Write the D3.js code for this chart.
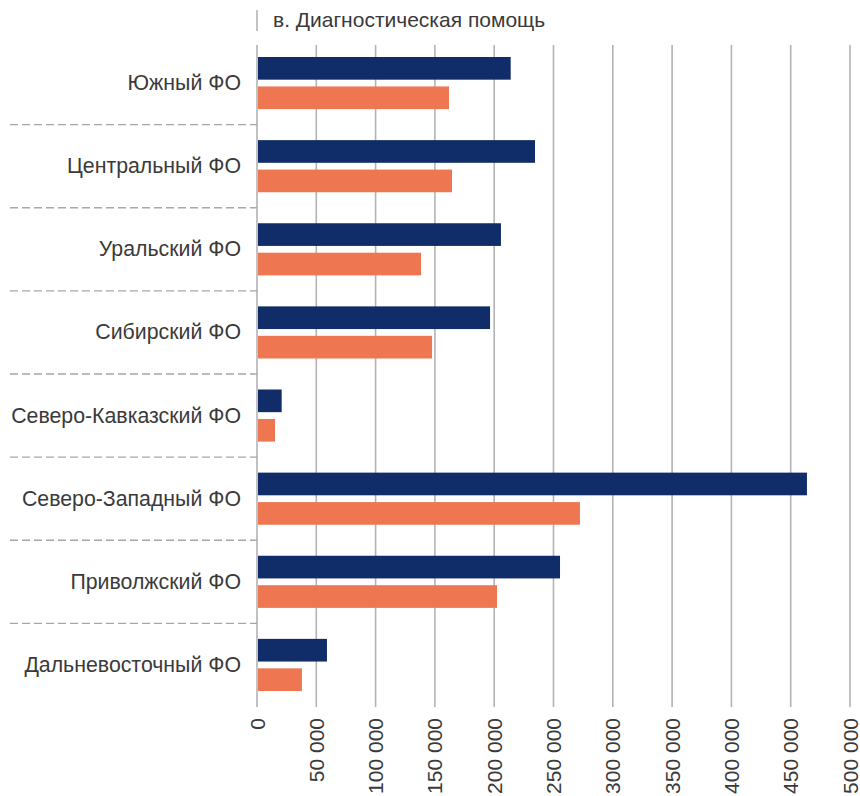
<!DOCTYPE html>
<html><head><meta charset="utf-8">
<script src="https://cdn.jsdelivr.net/npm/d3@7"></script>
<style>
body{margin:0;background:#fff;}
svg text{font-family:"Liberation Sans",Arial,sans-serif;font-weight:normal;fill:#3a3a3a;}
</style></head>
<body>
<script>
const categories = ["Южный ФО","Центральный ФО","Уральский ФО","Сибирский ФО","Северо-Кавказский ФО","Северо-Западный ФО","Приволжский ФО","Дальневосточный ФО"];
const series1 = [213900, 234400, 205700, 196500, 20800, 463700, 255500, 59000];
const series2 = [161900, 164400, 138300, 147600, 15200, 272300, 202400, 37900];
const tickValues = [0,50000,100000,150000,200000,250000,300000,350000,400000,450000,500000];
const title = "в. Диагностическая помощь";

const W = 860, H = 796;
const svg = d3.select("body").append("svg").attr("width", W).attr("height", H);

const x = d3.scaleLinear().domain([0, 500000]).range([257, 850]);
const y = d3.scaleBand().domain(categories).range([41, 706]);
const inner = d3.scaleBand().domain([0,1]).range([16, y.bandwidth() - 15]).paddingInner(0.23);

// gridlines
svg.append("g").selectAll("line").data(tickValues).join("line")
  .attr("x1", d => x(d)).attr("x2", d => x(d))
  .attr("y1", 45).attr("y2", 707)
  .attr("stroke", "#b3b3b3").attr("stroke-width", 1.6);

// dashed separators
svg.append("g").selectAll("line").data(categories.slice(1)).join("line")
  .attr("x1", 10).attr("x2", 257)
  .attr("y1", d => y(d) + 0.5).attr("y2", d => y(d) + 0.5)
  .attr("stroke", "#a6a6a6").attr("stroke-width", 1.3).attr("stroke-dasharray", "8,4");

// bars
const colors = ["#112d69", "#ee7751"];
[series1, series2].forEach((s, i) => {
  svg.append("g").selectAll("rect").data(s).join("rect")
    .attr("x", x(0) + 1)
    .attr("y", (d, j) => y(categories[j]) + inner(i))
    .attr("width", d => x(d) - x(0) - 1)
    .attr("height", inner.bandwidth())
    .attr("fill", colors[i]);
});

// category labels
svg.append("g").selectAll("text").data(categories).join("text")
  .attr("x", 241).attr("y", d => y(d) + y.bandwidth()/2 + 7.5)
  .attr("text-anchor", "end").attr("font-size", 21.3).text(d => d);

// x axis tick labels
const fmt = d => d3.format(",")(d).replace(/,/g, " ");
svg.append("g").selectAll("text").data(tickValues).join("text")
  .attr("transform", d => `translate(${x(d) + 7.5},718) rotate(-90)`)
  .attr("text-anchor", "end").attr("font-size", 21).text(fmt);

// title
svg.append("line").attr("x1", 257).attr("x2", 257).attr("y1", 10).attr("y2", 31)
  .attr("stroke", "#b3b3b3").attr("stroke-width", 1.6);
svg.append("text").attr("x", 273).attr("y", 27).attr("font-size", 21).text(title);
</script>
</body></html>
